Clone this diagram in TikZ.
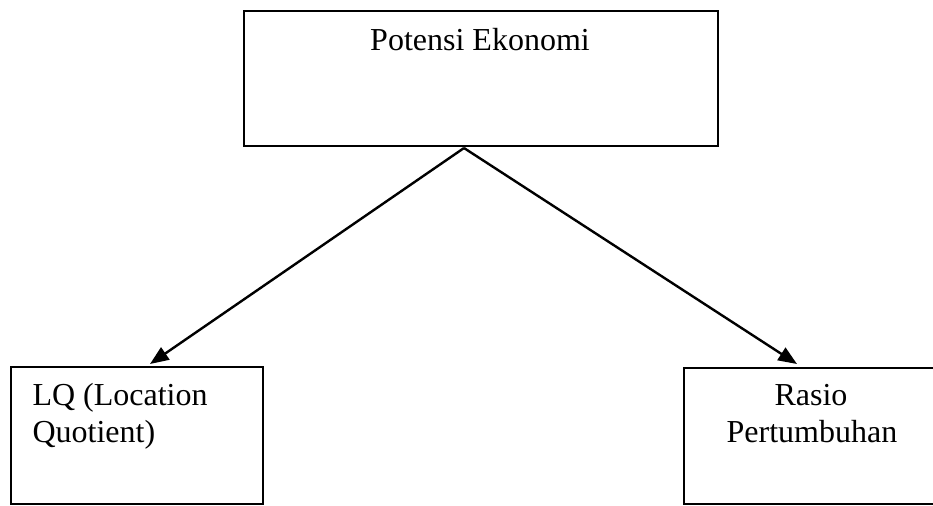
\documentclass[tikz,border=0pt]{standalone}
\usepackage{fontspec}
\setmainfont{Liberation Serif}
\usetikzlibrary{arrows.meta}
\begin{document}
\begin{tikzpicture}[x=0.375pt,y=-0.375pt,
  boxnode/.style={draw,line width=0.75pt,inner sep=0pt,anchor=north west},
  txt/.style={inner sep=0pt,font=\fontsize{12pt}{14pt}\selectfont},
  conn/.style={line width=0.9pt,-{Triangle[length=7pt,width=5.5pt]}}]
\useasboundingbox (0,0) rectangle (933,505);
\clip (0,0) rectangle (933,505);
\node[boxnode,minimum width=474*0.375pt,minimum height=135.5*0.375pt] (top) at (243,9.5) {};
\node[txt,anchor=base] (toptext) at (480,50) {Potensi Ekonomi};
\node[boxnode,minimum width=252*0.375pt,minimum height=137*0.375pt] (lq) at (10,366) {};
\node[txt,anchor=base west] (lq1) at (32,405) {LQ (Location};
\node[txt,anchor=base west] (lq2) at (32,442) {Quotient)};
\node[boxnode,minimum width=260*0.375pt,minimum height=136*0.375pt] (rasio) at (683,367) {};
\node[txt,anchor=base] (r1) at (811,405) {Rasio};
\node[txt,anchor=base] (r2) at (812,442) {Pertumbuhan};
\coordinate (apex) at (464,148);
\coordinate (lqtip) at (150,364);
\coordinate (rtip) at (797,364);
\draw[conn] (apex) -- (lqtip);
\draw[conn] (apex) -- (rtip);
\end{tikzpicture}
\end{document}
